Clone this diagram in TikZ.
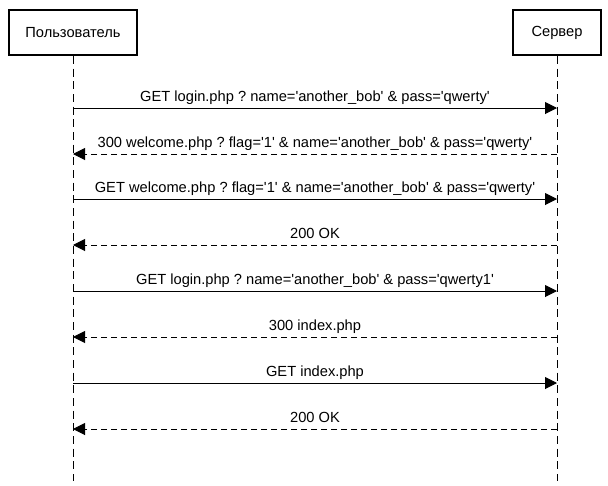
\documentclass[tikz,border=0pt]{standalone}
\usepackage{fontspec}
\newfontfamily\diafont{Liberation Sans}
\usetikzlibrary{arrows.meta}

\begin{document}
\frenchspacing
\begin{tikzpicture}[x=0.75pt, y=-0.75pt]
    \tikzstyle{actor}=[draw, line width=1.5pt, minimum height=33.75pt, inner sep=0pt, font=\diafont\fontsize{11}{13}\selectfont]
    \tikzstyle{lifeline}=[line width=0.75pt, dash pattern=on 6pt off 3.5pt]
    \tikzstyle{call}=[line width=0.75pt, -{Triangle[length=9pt,width=9pt]}]
    \tikzstyle{reply}=[call, dash pattern=on 4.5pt off 3pt]
    \tikzstyle{lbl}=[anchor=base, yshift=5pt, inner sep=0pt, font=\diafont\fontsize{11}{13}\selectfont]

    \useasboundingbox (0,0) rectangle (608,486);

    % participants
    \node[actor, minimum width=96pt] (user) at (73,32.5) {Пользователь};
    \node[actor, minimum width=66pt] (server) at (557,32.5) {Сервер};
    \coordinate (userend) at (73,481);
    \coordinate (serverend) at (557,481);
    \draw[lifeline] (user) -- (userend);
    \draw[lifeline] (server) -- (serverend);

    % message points
    \coordinate (u1) at (73,108);  \coordinate (s1) at (557,108);
    \coordinate (u2) at (73,154);  \coordinate (s2) at (557,154);
    \coordinate (u3) at (73,199);  \coordinate (s3) at (557,199);
    \coordinate (u4) at (73,245);  \coordinate (s4) at (557,245);
    \coordinate (u5) at (73,291);  \coordinate (s5) at (557,291);
    \coordinate (u6) at (73,337);  \coordinate (s6) at (557,337);
    \coordinate (u7) at (73,383);  \coordinate (s7) at (557,383);
    \coordinate (u8) at (73,429);  \coordinate (s8) at (557,429);

    \draw[call] (u1) -- node[lbl] {GET login.php ? name='another\_bob' \& pass='qwerty'} (s1);
    \draw[reply] (s2) -- node[lbl] {300 welcome.php ? flag='1' \& name='another\_bob' \& pass='qwerty'} (u2);
    \draw[call] (u3) -- node[lbl] {GET welcome.php ? flag='1' \& name='another\_bob' \& pass='qwerty'} (s3);
    \draw[reply] (s4) -- node[lbl] {200 OK} (u4);
    \draw[call] (u5) -- node[lbl] {GET login.php ? name='another\_bob' \& pass='qwerty1'} (s5);
    \draw[reply] (s6) -- node[lbl] {300 index.php} (u6);
    \draw[call] (u7) -- node[lbl] {GET index.php} (s7);
    \draw[reply] (s8) -- node[lbl] {200 OK} (u8);

\end{tikzpicture}
\end{document}
